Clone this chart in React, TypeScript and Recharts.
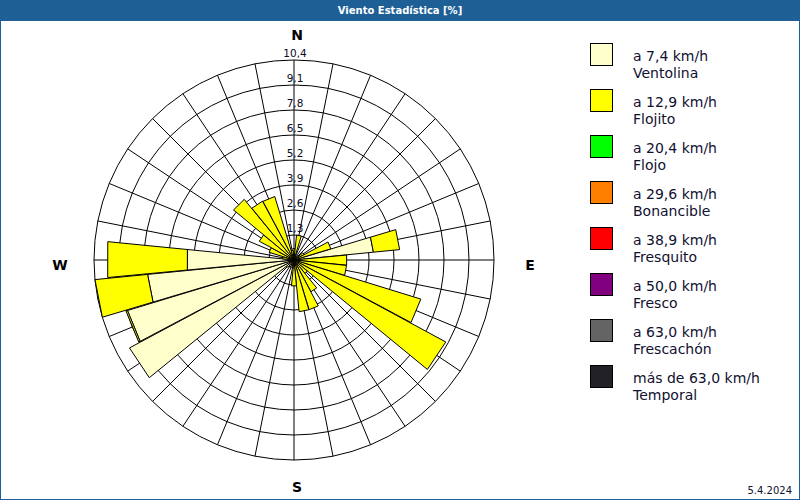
import React from 'react';
import { RadialBarChart, RadialBar, PolarGrid, PolarAngleAxis, PolarRadiusAxis } from 'recharts';

const DIRECTIONS = [
  'N', 'NbE', 'NNE', 'NEbN', 'NE', 'NEbE', 'ENE', 'EbN',
  'E', 'EbS', 'ESE', 'SEbE', 'SE', 'SEbS', 'SSE', 'SbE',
  'S', 'SbW', 'SSW', 'SWbS', 'SW', 'SWbW', 'WSW', 'WbS',
  'W', 'WbN', 'WNW', 'NWbW', 'NW', 'NWbN', 'NNW', 'NbW',
];

const VENTOLINA = [
  0.2, 0, 0, 0, 0, 0, 0, 4.15,
  0, 0, 0, 0, 0.3, 0, 0, 0,
  0, 0.3, 0.4, 0.4, 0.5, 9.7, 9.05, 7.65,
  5.57, 0.3, 0, 0, 0, 0, 0, 0,
];
const FLOJITO = [
  0.4, 1.3, 0, 0, 0.3, 0.6, 2.0, 1.37,
  2.75, 2.75, 6.9, 8.97, 0.6, 1.87, 2.7, 2.7,
  1.35, 0, 0, 0, 0, 0, 0.08, 2.75,
  4.16, 0.3, 1.35, 2.05, 4.08, 3.47, 3.45, 0.5,
];
const FLOJO = [
  0, 0, 0, 0, 0, 0, 0, 0, 0, 0, 0, 0, 0, 0, 0, 0,
  0, 0, 0, 0, 0, 0, 0, 0, 0, 0, 0, 0, 0, 0, 0, 0,
];
const BONANCIBLE = [
  0, 0, 0, 0, 0, 0, 0, 0, 0, 0, 0, 0, 0, 0, 0, 0,
  0, 0, 0, 0, 0, 0, 0, 0, 0, 0, 0, 0, 0, 0, 0, 0,
];
const FRESQUITO = [
  0, 0, 0, 0, 0, 0, 0, 0, 0, 0, 0, 0, 0, 0, 0, 0,
  0, 0, 0, 0, 0, 0, 0, 0, 0, 0, 0, 0, 0, 0, 0, 0,
];
const FRESCO = [
  0, 0, 0, 0, 0, 0, 0, 0, 0, 0, 0, 0, 0, 0, 0, 0,
  0, 0, 0, 0, 0, 0, 0, 0, 0, 0, 0, 0, 0, 0, 0, 0,
];
const FRESCACHON = [
  0, 0, 0, 0, 0, 0, 0, 0, 0, 0, 0, 0, 0, 0, 0, 0,
  0, 0, 0, 0, 0, 0, 0, 0, 0, 0, 0, 0, 0, 0, 0, 0,
];
const TEMPORAL = [
  0, 0, 0, 0, 0, 0, 0, 0, 0, 0, 0, 0, 0, 0, 0, 0,
  0, 0, 0, 0, 0, 0, 0, 0, 0, 0, 0, 0, 0, 0, 0, 0,
];

const SERIES = [
  { key: 'ventolina', range: 'a 7,4 km/h', name: 'Ventolina', color: '#FFFFCC', values: VENTOLINA },
  { key: 'flojito', range: 'a 12,9 km/h', name: 'Flojito', color: '#FFFF00', values: FLOJITO },
  { key: 'flojo', range: 'a 20,4 km/h', name: 'Flojo', color: '#00FF00', values: FLOJO },
  { key: 'bonancible', range: 'a 29,6 km/h', name: 'Bonancible', color: '#FF8000', values: BONANCIBLE },
  { key: 'fresquito', range: 'a 38,9 km/h', name: 'Fresquito', color: '#FF0000', values: FRESQUITO },
  { key: 'fresco', range: 'a 50,0 km/h', name: 'Fresco', color: '#800080', values: FRESCO },
  { key: 'frescachon', range: 'a 63,0 km/h', name: 'Frescachón', color: '#646464', values: FRESCACHON },
  { key: 'temporal', range: 'más de 63,0 km/h', name: 'Temporal', color: '#222226', values: TEMPORAL },
];

const RADIUS_TICKS = [1.3, 2.6, 3.9, 5.2, 6.5, 7.8, 9.1, 10.4];
const RADIUS_MAX = 10.4;
const CARDINALS = ['N', 'E', 'S', 'W'];
const TITLE = 'Viento Estadística [%]';
const DATE_LABEL = '5.4.2024';

const data = DIRECTIONS.map((dir, i) => {
  const row: Record<string, number | string> = { dir };
  SERIES.forEach((s) => {
    row[s.key] = s.values[i];
  });
  return row;
});

const CX = 294;
const CY = 260;
const OUTER = 200;
const STEP = 360 / DIRECTIONS.length;
const START_ANGLE = 90 - STEP / 2;
const END_ANGLE = START_ANGLE - 360;
const GRID_ANGLES = DIRECTIONS.map((_, i) => 90 - i * STEP);
const RAD = Math.PI / 180;
const FONT = '"DejaVu Sans", Verdana, sans-serif';

const fmt = (v: number) => v.toFixed(1).replace('.', ',');

const WedgeShape = (props: any) => {
  const { cx, cy, innerRadius, outerRadius, startAngle, endAngle, fill } = props;
  if (!(outerRadius - innerRadius > 0.01)) return null;
  const pt = (r: number, a: number) => `${cx + r * Math.cos(-a * RAD)},${cy + r * Math.sin(-a * RAD)}`;
  const pts =
    innerRadius > 0.01
      ? [pt(innerRadius, startAngle), pt(outerRadius, startAngle), pt(outerRadius, endAngle), pt(innerRadius, endAngle)]
      : [`${cx},${cy}`, pt(outerRadius, startAngle), pt(outerRadius, endAngle)];
  return <polygon points={pts.join(' ')} fill={fill} stroke="#000000" strokeWidth={1} strokeLinejoin="miter" />;
};

const RadiusTick = (props: any) => {
  const { x, y, payload } = props;
  return (
    <text x={x + 1} y={y - 7} textAnchor="middle" dominantBaseline="central" fontSize={10.5} fontFamily={FONT} fill="#0a0a22">
      {fmt(payload.value)}
    </text>
  );
};

const CompassTick = (props: any) => {
  const { payload } = props;
  if (!CARDINALS.includes(payload.value)) return null;
  const horizontal = payload.value === 'E' || payload.value === 'W';
  const d = OUTER + (horizontal ? 35 : 26);
  const a = payload.coordinate + STEP / 2;
  const x = CX + d * Math.cos(-a * RAD) + (horizontal ? 0 : 2);
  const y = CY + d * Math.sin(-a * RAD) + (horizontal ? 4 : 0);
  return (
    <text x={x} y={y} textAnchor="middle" dominantBaseline="central" fontSize={14} fontWeight="bold" fontFamily={FONT} fill="#000000">
      {payload.value}
    </text>
  );
};

export default function App() {
  return (
    <div
      style={{
        position: 'absolute',
        left: 0,
        top: 0,
        width: 800,
        height: 500,
        background: '#ffffff',
        boxSizing: 'border-box',
        border: '1px solid #1e5f96',
        overflow: 'hidden',
        fontFamily: FONT,
      }}
    >
      <div style={{ position: 'absolute', left: 0, top: 0 }}>
        <RadialBarChart
          width={800}
          height={500}
          data={data}
          layout="centric"
          cx={CX - 1}
          cy={CY - 1}
          innerRadius={0}
          outerRadius={OUTER}
          startAngle={START_ANGLE}
          endAngle={END_ANGLE}
          barCategoryGap={0}
          margin={{ top: 0, right: 0, bottom: 0, left: 0 }}
        >
          <PolarGrid gridType="circle" polarAngles={GRID_ANGLES} stroke="#000000" strokeWidth={1} />
          <PolarAngleAxis type="category" dataKey="dir" axisLine={false} tickLine={false} tick={<CompassTick />} />
          <PolarRadiusAxis
            type="number"
            angle={90}
            domain={[0, RADIUS_MAX]}
            ticks={RADIUS_TICKS}
            axisLine={false}
            tickLine={false}
            tick={<RadiusTick />}
          />
          {SERIES.map((s) => (
            <RadialBar
              key={s.key}
              dataKey={s.key}
              stackId="wind"
              fill={s.color}
              isAnimationActive={false}
              shape={WedgeShape}
            />
          ))}
        </RadialBarChart>
      </div>
      <div
        style={{
          position: 'absolute',
          left: 0,
          top: 0,
          width: 798,
          height: 20,
          background: '#1e5f96',
          color: '#ffffff',
          fontSize: 10,
          fontWeight: 'bold',
          lineHeight: '20px',
          textAlign: 'center',
        }}
      >
        {TITLE}
      </div>
      <div style={{ position: 'absolute', left: 589, top: 42 }}>
        {SERIES.map((s) => (
          <div key={s.key} style={{ position: 'relative', height: 46 }}>
            <div
              style={{
                position: 'absolute',
                left: 0,
                top: 0,
                width: 21,
                height: 21,
                background: s.color,
                border: '1px solid #000000',
              }}
            />
            <div
              style={{
                position: 'absolute',
                left: 43,
                top: 5,
                fontSize: 14,
                lineHeight: '17px',
                color: '#101030',
                whiteSpace: 'nowrap',
              }}
            >
              <div>{s.range}</div>
              <div>{s.name}</div>
            </div>
          </div>
        ))}
      </div>
      <div style={{ position: 'absolute', right: 7, bottom: 3, fontSize: 10, color: '#101030' }}>{DATE_LABEL}</div>
    </div>
  );
}
